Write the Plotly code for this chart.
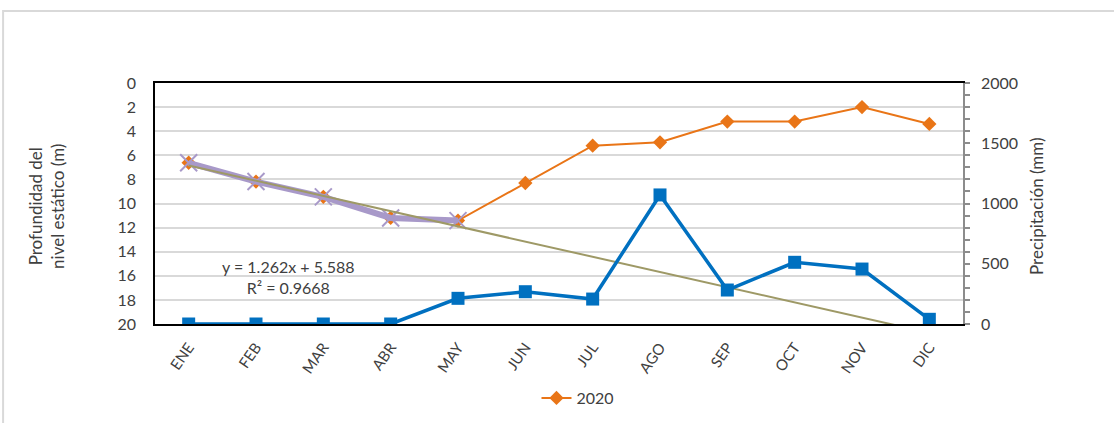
import plotly.graph_objects as go

months = ["ENE", "FEB", "MAR", "ABR", "MAY", "JUN", "JUL", "AGO", "SEP", "OCT", "NOV", "DIC"]
depth_2020 = [6.62, 8.18, 9.45, 11.2, 11.42, 8.3, 5.2, 4.92, 3.2, 3.2, 2.0, 3.4]
precip_mm = [0, 0, 0, 0, 213, 268, 207, 1071, 282, 512, 456, 39]
trend_n = 5  # months used by the linear trend
trend_slope = 1.262
trend_intercept = 5.588
trend_r2 = 0.9668

xpos = list(range(1, len(months) + 1))
FONT = "Lato"
TXT = "#404040"

fig = go.Figure()

# 2020 depth series (orange)
fig.add_trace(go.Scatter(
    x=xpos, y=depth_2020, name="2020", mode="lines+markers",
    line=dict(color="#E97517", width=2),
    marker=dict(symbol="diamond", size=11, color="#E97517"),
    yaxis="y", showlegend=True))

# highlighted period used for the trend (purple)
fig.add_trace(go.Scatter(
    x=xpos[:trend_n], y=depth_2020[:trend_n], mode="lines+markers",
    line=dict(color="#A899C9", width=6),
    marker=dict(symbol="x-thin-open", size=17, line=dict(color="#A899C9", width=2)),
    yaxis="y", showlegend=False, hoverinfo="skip"))

# linear trend (forecast forward)
tx = [xpos[0], xpos[-1]]
ty = [trend_slope * v + trend_intercept for v in tx]
fig.add_trace(go.Scatter(
    x=tx, y=ty, mode="lines", line=dict(color="#9E9966", width=2),
    yaxis="y", showlegend=False, hoverinfo="skip"))

# precipitation (blue, right axis)
fig.add_trace(go.Scatter(
    x=xpos, y=precip_mm, mode="lines+markers",
    line=dict(color="#0070C0", width=3.5),
    marker=dict(symbol="square", size=13, color="#0070C0"),
    yaxis="y2", showlegend=False))

fig.update_layout(
    width=1114, height=423,
    margin=dict(l=155, r=151, t=83, b=99),
    paper_bgcolor="white", plot_bgcolor="white",
    font=dict(family=FONT, size=16, color=TXT),
    xaxis=dict(
        range=[0.5, len(months) + 0.5], tickmode="array", tickvals=xpos, ticktext=months,
        tickangle=-55, showgrid=False, zeroline=False, automargin=False,
        showline=True, linecolor="black", linewidth=1.5, mirror=True,
        ticks="", ticklabelstandoff=7, tickfont=dict(size=15, color=TXT)),
    yaxis=dict(
        range=[20, 0], dtick=2, showgrid=True, gridcolor="#D9D9D9", gridwidth=2,
        zeroline=False, showline=True, linecolor="black", linewidth=1.5, automargin=False,
        ticks="", ticklabelstandoff=14, tickfont=dict(size=16, color=TXT)),
    yaxis2=dict(
        range=[0, 2000], dtick=500, overlaying="y", side="right", showgrid=False,
        zeroline=False, showline=True, linecolor="#8C8C8C", linewidth=1.5, automargin=False,
        ticks="outside", ticklen=5, tickcolor="#8C8C8C", tickwidth=1.5,
        minor=dict(dtick=100, ticks="outside", ticklen=5, tickcolor="#8C8C8C", tickwidth=1.5),
        ticklabelstandoff=8, tickfont=dict(size=16, color=TXT)),
    legend=dict(orientation="h", x=0.5235, xanchor="center",
                yref="container", y=1 - 398 / 423, yanchor="middle",
                font=dict(size=16, color=TXT)),
    showlegend=True,
)

fig.add_annotation(
    x=2.49, y=16.1, xref="x", yref="y",
    text=f"y = {trend_slope}x + {trend_intercept}<br>R² = {trend_r2}",
    showarrow=False, font=dict(size=16, color=TXT), align="center")

fig.add_annotation(
    x=-0.1337, y=0.49, xref="paper", yref="paper", textangle=-90,
    xanchor="center", yanchor="middle",
    text="Profundidad del<br>nivel estático (m)", showarrow=False,
    font=dict(size=17, color=TXT), align="center")

fig.add_annotation(
    x=1.0916, y=0.49, xref="paper", yref="paper", textangle=-90,
    xanchor="center", yanchor="middle",
    text="Precipitación (mm)", showarrow=False,
    font=dict(size=17, color=TXT), align="center")

# outer chart border
fig.add_shape(type="rect", xref="paper", yref="paper",
              x0=-0.188, x1=1.2, y0=-0.45, y1=1.299,
              line=dict(color="#D9D9D9", width=2), layer="below")

fig.write_html("out.html", post_script="document.body.style.margin='0';",
               config={"displayModeBar": False})
